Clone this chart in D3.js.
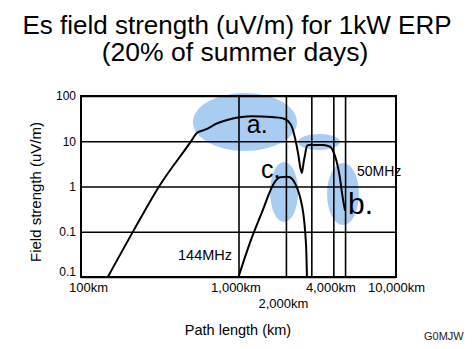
<!DOCTYPE html>
<html>
<head>
<meta charset="utf-8">
<script src="https://cdn.jsdelivr.net/npm/d3@7"></script>
<style>
  body { margin: 0; background: #fff; }
  svg { display: block; font-family: Helvetica, Arial, "Liberation Sans", sans-serif; }
  .tick line { stroke: #000; stroke-width: 1.6; }
</style>
</head>
<body>
<svg width="474" height="349"></svg>
<script>
// data: [path km, field strength uV/m]
const mhz50 = [
  [148, 0.01], [217, 0.11], [313, 1], [507, 10.7], [543, 15.2], [613, 18],
  [741, 25.3], [906, 31.5], [1048, 34.3], [1213, 35.6], [1625, 34.3], [1880, 32.6],
  [2070, 27.6], [2196, 19.6], [2285, 11.8], [2397, 5.05], [2460, 2.8], [2525, 2.0],
  [2590, 3.4], [2644, 5], [2710, 7.6], [2775, 8.26], [3450, 8.26], [3810, 7.58],
  [4000, 5.87], [4203, 3.53], [4410, 1.52], [4560, 0.65], [4750, 0.29]
]
const mhz144 = [
  [1000, 0.01], [1180, 0.056], [1400, 0.255], [1705, 1.28], [1834, 1.6], [2023, 1.65],
  [2120, 1.6], [2284, 1.18], [2455, 0.6], [2580, 0.25], [2650, 0.1], [2700, 0.03], [2720, 0.01]
]
const yTicks = [100, 10, 1, 0.1, 0.01]
const yLabels = ['100', '10', '1', '0.1', '0.1']
const xGrid = [1000, 2000, 2900, 4000, 4750]
const xTicks = [100, 1000, 4000, 10000]
const xTickLabels = ['100km', '1,000km', '4,000km', '10,000km']
const xTicksLow = [2000]
const xTickLowLabels = ['2,000km']

// highlighted areas: [km from, km to, value from, value to]
const blobs = [
  [514, 2350, 6.09, 116],
  [2390, 4410, 6.4, 14.5],
  [1585, 2390, 0.164, 3.48],
  [3650, 5820, 0.141, 3.31]
]
// annotations: text, km, value (left edge / baseline)
const notes = [
  ['a.', 1130, 15.2, 25],
  ['c.', 1390, 1.54, 25],
  ['b.', 4960, 0.247, 30],
  ['50MHz', 5650, 1.71, 14],
  ['144MHz', 413, 0.0238, 14.5]
]

const svg = d3.select('svg')
const pLeft = 81, pRight = 396, pTop = 96, pBottom = 277

const x = d3.scaleLog().domain([100, 10000]).range([pLeft, pRight])
const y = d3.scaleLog().domain([0.01, 100]).range([pBottom, pTop])

// title
svg.append('text')
    .attr('x', 237).attr('y', 34)
    .attr('text-anchor', 'middle')
    .attr('font-size', 26)
    .text('Es field strength (uV/m) for 1kW ERP')
svg.append('text')
    .attr('x', 235).attr('y', 61)
    .attr('text-anchor', 'middle')
    .attr('font-size', 26.5)
    .text('(20% of summer days)')

// blue blobs sit under the grid
svg.append('g').selectAll('ellipse').data(blobs)
    .enter().append('ellipse')
        .attr('cx', d => (x(d[0]) + x(d[1])) / 2)
        .attr('cy', d => (y(d[2]) + y(d[3])) / 2)
        .attr('rx', d => (x(d[1]) - x(d[0])) / 2)
        .attr('ry', d => (y(d[2]) - y(d[3])) / 2)
        .attr('fill', '#a9cdf2')

// horizontal grid + y labels
const yAxis = svg.append('g')
    .attr('transform', `translate(${pLeft},0)`)
    .call(d3.axisLeft(y)
        .tickValues(yTicks)
        .tickFormat((d, i) => yLabels[i])
        .tickSizeInner(-(pRight - pLeft))
        .tickSizeOuter(0)
        .tickPadding(5))
yAxis.select('.domain').remove()
yAxis.selectAll('text').attr('font-size', 12).attr('fill', '#000').attr('font-family', null)
// bottom label sits just above the frame line
yAxis.selectAll('.tick').filter(d => d === 0.01).select('text').attr('dy', '-0.1em')

// vertical grid
const xg = svg.append('g')
    .attr('transform', `translate(0,${pBottom})`)
    .call(d3.axisBottom(x).tickValues(xGrid).tickFormat('').tickSizeInner(-(pBottom - pTop)).tickSizeOuter(0))
xg.select('.domain').remove()

// x labels
const xa = svg.append('g')
    .attr('transform', `translate(0,${pBottom})`)
    .call(d3.axisBottom(x).tickValues(xTicks).tickFormat((d, i) => xTickLabels[i]).tickSize(0).tickPadding(6))
xa.select('.domain').remove()
xa.selectAll('text').attr('font-size', 13).attr('fill', '#000').attr('font-family', null)
xa.selectAll('.tick').filter(d => d === 100).select('text').attr('dx', 7)
xa.selectAll('.tick').filter(d => d > 100 && d < 10000).select('text').attr('dx', -3)

const xb = svg.append('g')
    .attr('transform', `translate(0,${pBottom})`)
    .call(d3.axisBottom(x).tickValues(xTicksLow).tickFormat((d, i) => xTickLowLabels[i]).tickSize(0).tickPadding(22))
xb.select('.domain').remove()
xb.selectAll('text').attr('font-size', 13).attr('fill', '#000').attr('font-family', null).attr('dx', -3)

// frame
svg.append('rect')
    .attr('x', pLeft).attr('y', pTop)
    .attr('width', pRight - pLeft).attr('height', pBottom - pTop)
    .attr('fill', 'none')
    .attr('stroke', '#000')
    .attr('stroke-width', 2)

// curves
const line = d3.line()
    .x(d => x(d[0]))
    .y(d => y(d[1]))
    .curve(d3.curveMonotoneX)

svg.selectAll('.curve').data([mhz50, mhz144])
    .enter().append('path')
        .attr('class', 'curve')
        .attr('d', line)
        .attr('fill', 'none')
        .attr('stroke', '#000')
        .attr('stroke-width', 2)

// annotations
svg.append('g').selectAll('text').data(notes)
    .enter().append('text')
        .attr('x', d => x(d[1]))
        .attr('y', d => y(d[2]))
        .attr('font-size', d => d[3])
        .text(d => d[0])

// axis titles
svg.append('text')
    .attr('transform', 'translate(41,192) rotate(-90)')
    .attr('text-anchor', 'middle')
    .attr('font-size', 15)
    .text('Field strength (uV/m)')
svg.append('text')
    .attr('x', 238).attr('y', 335)
    .attr('text-anchor', 'middle')
    .attr('font-size', 14.5)
    .text('Path length (km)')
svg.append('text')
    .attr('x', 424).attr('y', 340)
    .attr('font-size', 11)
    .attr('fill', '#222')
    .text('G0MJW')
</script>
</body>
</html>
